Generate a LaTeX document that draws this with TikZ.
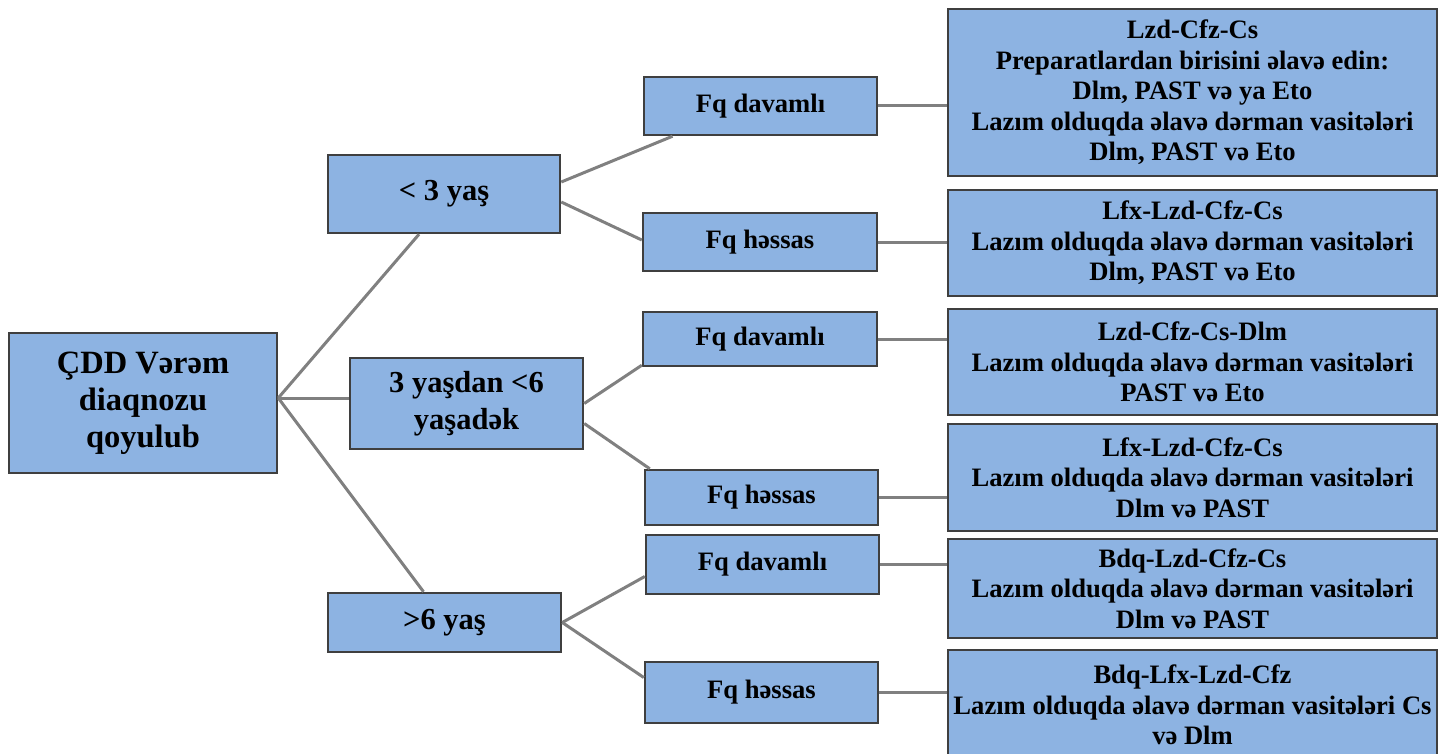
\documentclass[tikz,border=0pt]{standalone}
\usepackage{fontspec}
\setmainfont{Liberation Serif}
\usetikzlibrary{calc}
\definecolor{boxfill}{HTML}{8DB3E2}
\definecolor{boxline}{HTML}{3F3F3F}
\definecolor{conn}{HTML}{808080}
\tikzset{
  box/.style={draw=boxline, line width=2.5pt, fill=boxfill, inner sep=0pt, align=center, font=\bfseries},
  rootfont/.style={font=\fontsize{32.5}{37}\selectfont\bfseries},
  lvla/.style={font=\fontsize{30.5}{37}\selectfont\bfseries},
  lvlb/.style={font=\fontsize{26.6}{30}\selectfont\bfseries},
  lvlc/.style={font=\fontsize{26.6}{30.5}\selectfont\bfseries},
  link/.style={draw=conn, line width=3pt}
}
\begin{document}
\begin{tikzpicture}[x=1pt,y=-1pt]
\clip (0,0) rectangle (1439,754);
\fill[white] (0,0) rectangle (1439,754);
% root
\node[box, rootfont, minimum width=268pt, minimum height=140pt] (root) at (143,403) {ÇDD Vərəm\\diaqnozu\\qoyulub};
% level 1
\node[box, lvla, minimum width=232pt, minimum height=78pt] (La) at (444,194) {< 3 yaş};
\node[box, lvla, minimum width=233pt, minimum height=91pt] (Lb) at (466.5,403.5) {3 yaşdan <6\\yaşadək};
\node[box, lvla, minimum width=233pt, minimum height=59pt] (Lc) at (444.5,622.5) {>6 yaş};
% level 2
\node[box, lvlb, minimum width=233pt, minimum height=58pt] (Da) at (760.5,106) {Fq davamlı};
\node[box, lvlb, minimum width=234pt, minimum height=58pt] (Ha) at (760,242) {Fq həssas};
\node[box, lvlb, minimum width=234pt, minimum height=54pt] (Db) at (760,339) {Fq davamlı};
\node[box, lvlb, minimum width=233pt, minimum height=55pt] (Hb) at (761.5,497.5) {Fq həssas};
\node[box, lvlb, minimum width=233pt, minimum height=59pt] (Dc) at (762.5,564.5) {Fq davamlı};
\node[box, lvlb, minimum width=233pt, minimum height=61pt] (Hc) at (761.5,692.5) {Fq həssas};
% level 3
\node[box, lvlc, minimum width=489pt, minimum height=167pt] (Ra) at (1192.5,92.5) {Lzd-Cfz-Cs\\Preparatlardan birisini əlavə edin:\\Dlm, PAST və ya Eto\\Lazım olduqda əlavə dərman vasitələri\\Dlm, PAST və Eto};
\node[box, lvlc, minimum width=489pt, minimum height=106pt] (Rb) at (1192.5,243) {Lfx-Lzd-Cfz-Cs\\Lazım olduqda əlavə dərman vasitələri\\Dlm, PAST və Eto};
\node[box, lvlc, minimum width=489pt, minimum height=106pt] (Rc) at (1192.5,362) {Lzd-Cfz-Cs-Dlm\\Lazım olduqda əlavə dərman vasitələri\\PAST və Eto};
\node[box, lvlc, minimum width=489pt, minimum height=107pt] (Rd) at (1192.5,477.5) {Lfx-Lzd-Cfz-Cs\\Lazım olduqda əlavə dərman vasitələri\\Dlm və PAST};
\node[box, lvlc, minimum width=489pt, minimum height=99pt] (Re) at (1192.5,588.5) {Bdq-Lzd-Cfz-Cs\\Lazım olduqda əlavə dərman vasitələri\\Dlm və PAST};
\node[box, lvlc, minimum width=489pt, minimum height=110pt] (Rf) at (1192.5,705) {Bdq-Lfx-Lzd-Cfz\\Lazım olduqda əlavə dərman vasitələri Cs\\və Dlm};
% connectors
\coordinate (rj) at ($(root.east)+(0,-5)$);
\draw[link] (rj) -- ($(La.south)+(-25,0)$);
\draw[link] (rj) -- (rj -| Lb.west);
\draw[link] (rj) -- ($(Lc.north)+(-21,0)$);
\draw[link] ($(La.east)+(0,-12)$) -- ($(Da.south)+(-88,0)$);
\draw[link] ($(La.east)+(0,8)$) -- ($(Ha.west)+(0,-2)$);
\draw[link] (Lb.east) -- ($(Db.south west)+(0,-2)$);
\draw[link] ($(Lb.east)+(0,20)$) -- ($(Hb.north west)+(6,0)$);
\draw[link] (Lc.east) -- ($(Dc.west)+(0,12)$);
\draw[link] (Lc.east) -- ($(Hc.west)+(0,-15)$);
\draw[link] (Da.east) -- (Da.east -| Ra.west);
\draw[link] (Ha.east) -- (Ha.east -| Rb.west);
\draw[link] (Db.east) -- (Db.east -| Rc.west);
\draw[link] (Hb.east) -- (Hb.east -| Rd.west);
\draw[link] (Dc.east) -- (Dc.east -| Re.west);
\draw[link] (Hc.east) -- (Hc.east -| Rf.west);
\end{tikzpicture}
\end{document}
